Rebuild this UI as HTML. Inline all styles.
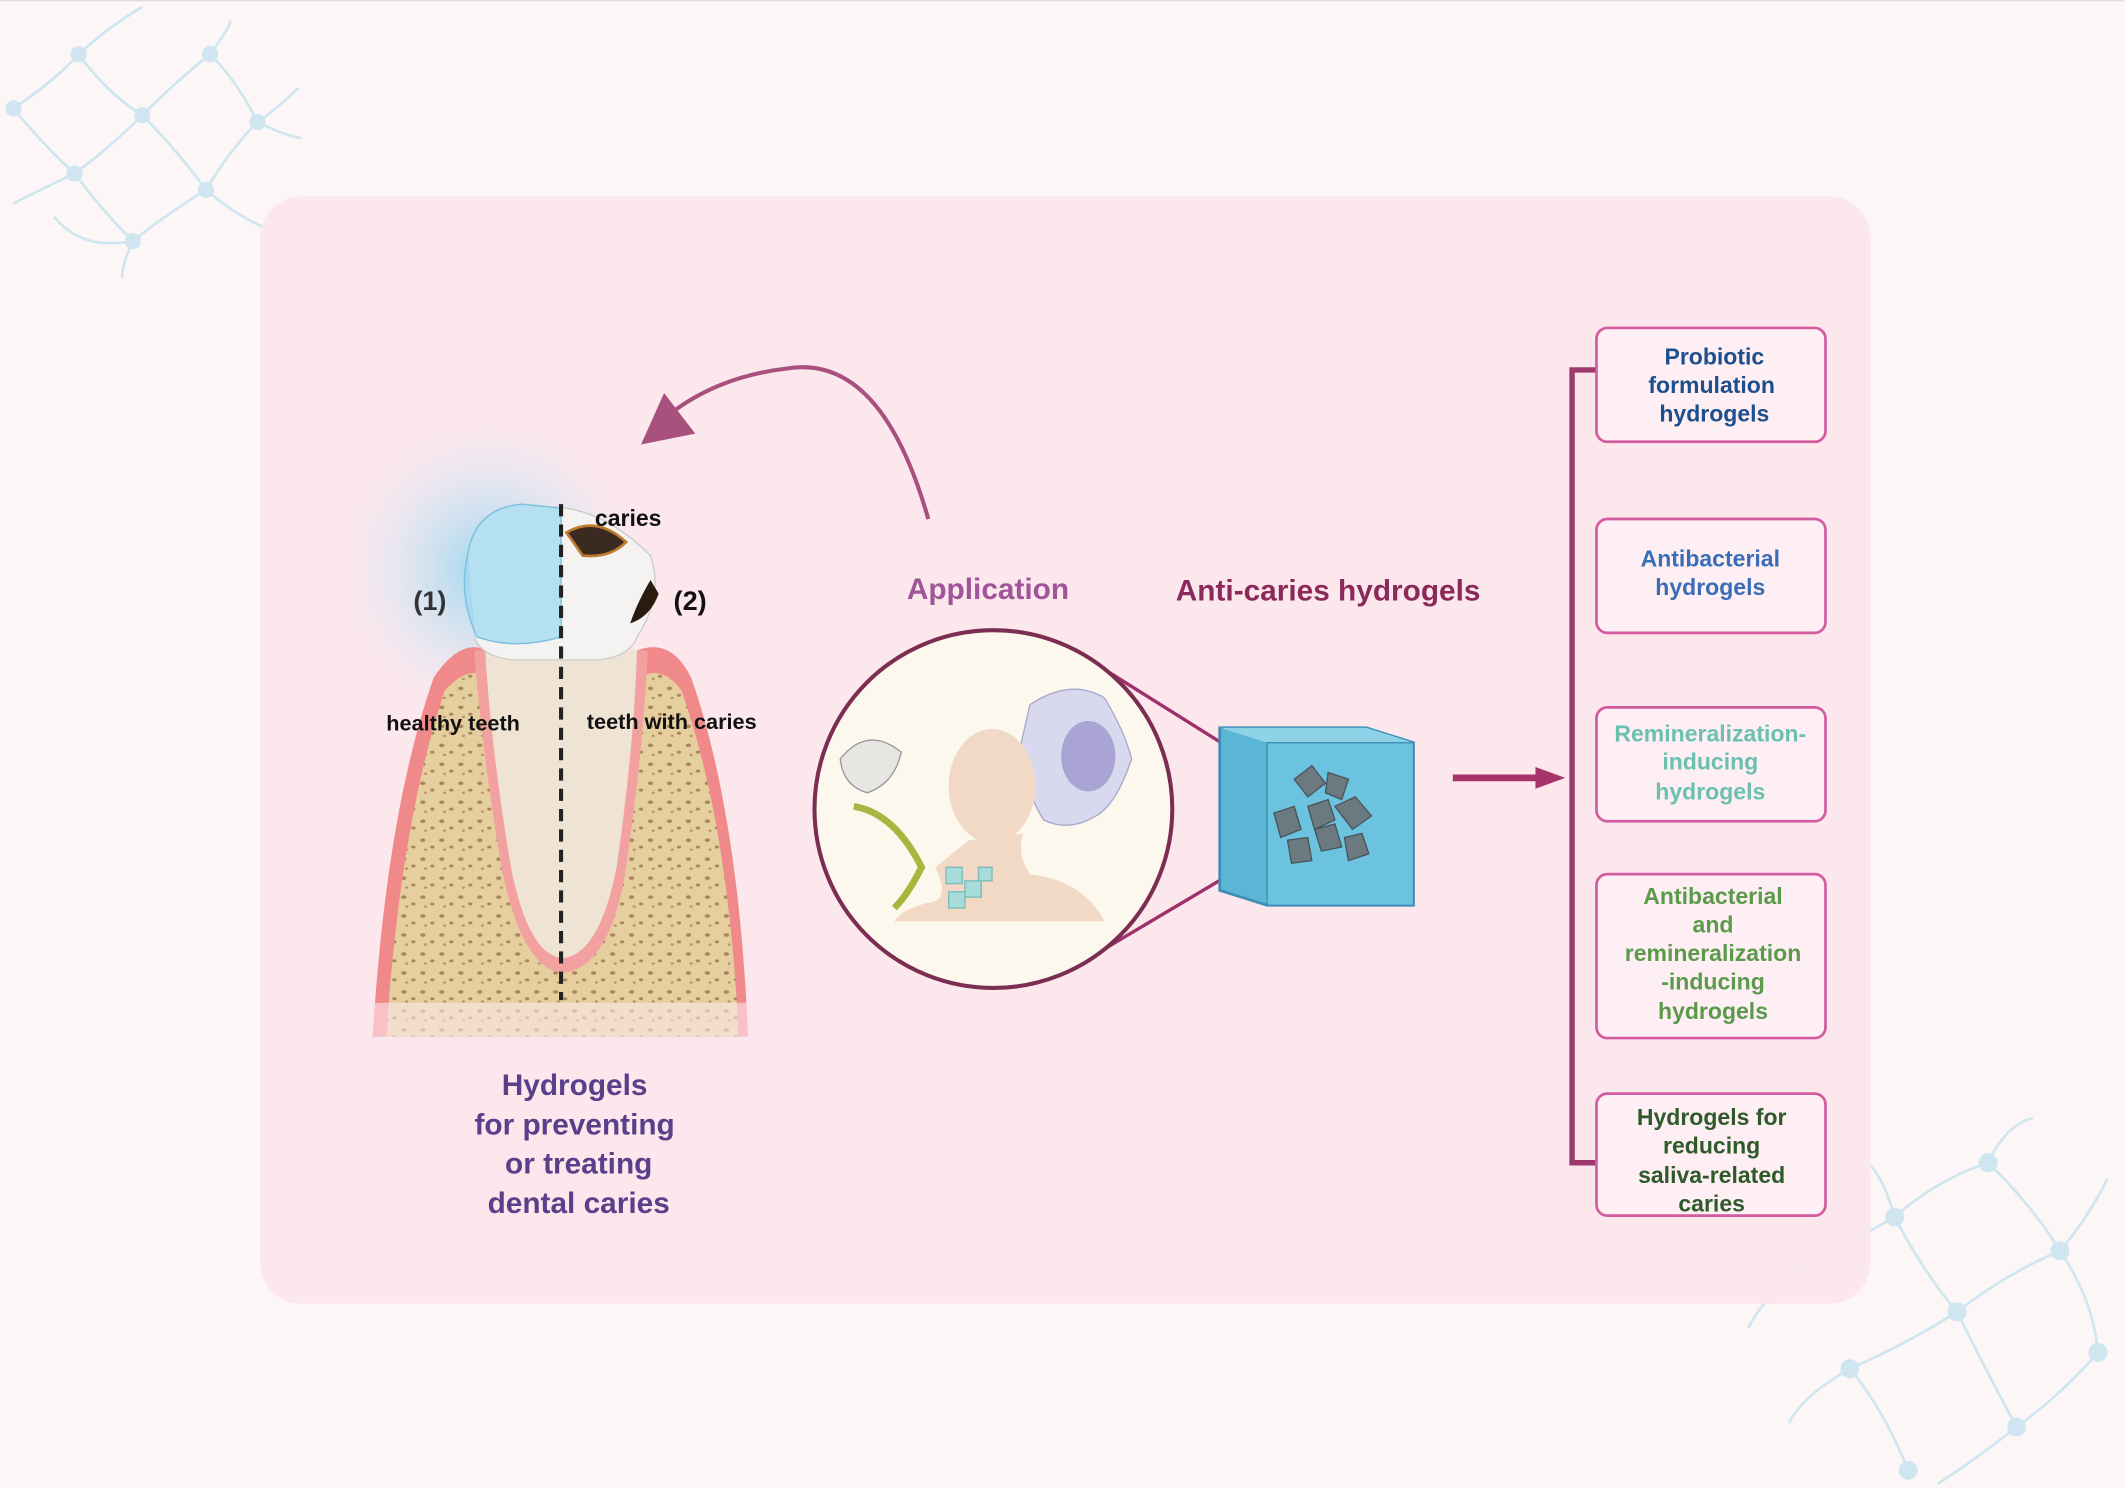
<!DOCTYPE html>
<html><head><meta charset="utf-8"><style>
html,body{margin:0;padding:0;background:#fcf7f6;}
svg{display:block;}
text{font-family:"Liberation Sans",sans-serif;font-weight:bold;}
</style></head><body>
<svg width="2125" height="1488" viewBox="0 0 1568 1098" preserveAspectRatio="none" xmlns="http://www.w3.org/2000/svg">
<defs>
<radialGradient id="glow" cx="0.5" cy="0.5" r="0.5">
<stop offset="0" stop-color="#8fd3f0" stop-opacity="0.9"/>
<stop offset="1" stop-color="#d8eef8" stop-opacity="0"/>
</radialGradient>
<pattern id="bone" width="14" height="14" patternUnits="userSpaceOnUse">
<rect width="14" height="14" fill="#e6cf9e"/>
<ellipse cx="4" cy="4" rx="2" ry="1.3" fill="#a9855a"/>
<ellipse cx="11" cy="9" rx="1.6" ry="1.1" fill="#a9855a"/>
<ellipse cx="6" cy="11" rx="1.2" ry="0.9" fill="#b89268"/>
</pattern>
</defs>
<rect width="1568" height="1098" fill="#fcf7f6"/>
<line x1="0" y1="0.5" x2="1568" y2="0.5" stroke="#ddd"/>
<!-- network decorations -->
<g stroke="#cfe6f1" stroke-width="2" fill="none">
<path d="M10 80 Q40 60 58 40 Q80 20 105 5 M58 40 Q80 70 105 85 Q130 60 155 40 Q170 20 170 15 M105 85 Q80 110 55 128 Q30 140 10 150 M105 85 Q130 110 152 140 Q170 110 190 90 Q205 80 220 65 M55 128 Q75 155 98 178 Q120 160 152 140 M98 178 Q90 195 90 205 M152 140 Q175 160 200 170 M10 80 Q30 105 55 128 M155 40 Q175 60 190 90 M190 90 Q210 100 222 102 M98 178 Q60 185 40 160"/>
<path d="M1325 938 Q1360 920 1398 898 Q1430 870 1467 858 Q1480 830 1500 825 M1398 898 Q1420 940 1444 968 Q1480 940 1520 923 Q1540 900 1555 870 M1444 968 Q1410 990 1365 1010 Q1330 1030 1320 1050 M1444 968 Q1470 1020 1488 1053 Q1520 1030 1548 998 M1365 1010 Q1390 1040 1408 1085 M1488 1053 Q1460 1075 1430 1095 M1467 858 Q1500 890 1520 923 M1398 898 Q1390 870 1380 860 M1325 938 Q1300 960 1290 980 M1520 923 Q1545 960 1548 998"/>
</g>
<g fill="#cfe6f1">
<circle cx="58" cy="40" r="6"/><circle cx="105" cy="85" r="6"/><circle cx="155" cy="40" r="6"/><circle cx="55" cy="128" r="6"/><circle cx="152" cy="140" r="6"/><circle cx="98" cy="178" r="6"/><circle cx="190" cy="90" r="6"/><circle cx="10" cy="80" r="6"/>
<circle cx="1398" cy="898" r="7"/><circle cx="1467" cy="858" r="7"/><circle cx="1444" cy="968" r="7"/><circle cx="1520" cy="923" r="7"/><circle cx="1365" cy="1010" r="7"/><circle cx="1488" cy="1053" r="7"/><circle cx="1548" cy="998" r="7"/><circle cx="1408" cy="1085" r="7"/><circle cx="1325" cy="938" r="7"/>
</g>
<!-- main panel -->
<rect x="192" y="145" width="1188" height="817" rx="30" fill="#fce6ec" fill-opacity="0.95"/>
<!-- tooth -->
<circle cx="360" cy="420" r="110" fill="url(#glow)"/>
<path d="M275 765 Q285 600 320 500 Q340 470 360 480 L470 480 Q495 470 510 500 Q545 600 552 765 Z" fill="#f08a8a"/>
<path d="M285 765 Q295 610 328 510 Q345 490 360 500 L470 500 Q490 490 503 510 Q538 610 545 765 Z" fill="url(#bone)"/>
<path d="M350 480 Q355 550 370 640 Q385 715 415 718 Q450 715 462 640 Q475 550 478 480 Z" fill="#f2a0a0"/>
<path d="M358 480 Q362 550 377 640 Q390 705 415 707 Q442 705 455 640 Q468 550 470 480 Z" fill="#efe4d4"/>
<path d="M345 410 Q350 375 385 372 L418 375 Q450 380 480 410 Q490 440 470 470 Q465 485 440 487 L380 487 Q355 485 350 470 Z" fill="#f5f3f2" stroke="#ccc" stroke-width="1"/>
<path d="M418 393 Q440 380 462 400 Q450 412 430 410 Z" fill="#3a2a20" stroke="#c07a30" stroke-width="2"/>
<path d="M480 428 Q470 445 465 460 Q480 455 486 438 Z" fill="#2a1a10"/>
<path d="M345 410 Q350 375 385 372 L414 375 L414 470 Q380 480 352 470 Q338 440 345 410 Z" fill="#9ed9f2" fill-opacity="0.75" stroke="#7bbfe0"/>
<rect x="275" y="740" width="280" height="30" fill="#fce6ec" fill-opacity="0.6"/>
<line x1="414" y1="372" x2="414" y2="738" stroke="#222" stroke-width="3" stroke-dasharray="9,6"/>
<text x="439" y="388" font-size="17" fill="#111">caries</text>
<text x="305" y="450" font-size="20" fill="#333" font-weight="normal">(1)</text>
<text x="497" y="450" font-size="20" fill="#111" font-weight="normal">(2)</text>
<text x="285" y="539" font-size="16" fill="#111">healthy teeth</text>
<text x="433" y="538" font-size="16" fill="#111">teeth with caries</text>
<g font-size="22" fill="#5b3f8a" text-anchor="middle">
<text x="424" y="808">Hydrogels</text>
<text x="424" y="837">for preventing</text>
<text x="427" y="866">or treating</text>
<text x="427" y="895">dental caries</text>
</g>
<!-- curved arrow -->
<path d="M685 383 Q650 260 580 272 Q530 278 495 305" fill="none" stroke="#a8507e" stroke-width="3"/>
<path d="M473 328 L490 290 L513 320 Z" fill="#a8507e"/>
<text x="729" y="442" font-size="22" fill="#a0559a" text-anchor="middle">Application</text>
<text x="980" y="443" font-size="22" fill="#8b2a5a" text-anchor="middle">Anti-caries hydrogels</text>
<!-- circle -->
<line x1="815" y1="494" x2="960" y2="585" stroke="#a0306a" stroke-width="2.5"/>
<line x1="785" y1="718" x2="950" y2="620" stroke="#a0306a" stroke-width="2.5"/>
<circle cx="733" cy="597" r="132" fill="#fdf8ee" stroke="#7b2d52" stroke-width="3"/>
<path d="M760 520 Q790 500 815 515 Q830 540 835 560 Q825 590 812 600 Q790 615 770 605 Q755 580 752 555 Z" fill="#d8d8ee" stroke="#a8a8cc"/>
<ellipse cx="803" cy="558" rx="20" ry="26" fill="#a9a4d4"/>
<path d="M690 640 Q700 660 690 665 Q665 670 660 680 L815 680 Q800 650 760 645 Q750 630 755 615 L715 620 Z" fill="#f2d9c6"/>
<ellipse cx="732" cy="580" rx="32" ry="42" fill="#f2d9c6"/>
<path d="M620 560 Q640 535 665 555 Q660 578 640 585 Q622 580 620 560 Z" fill="#e8e6e3" stroke="#999"/>
<path d="M630 595 Q660 600 680 640 Q670 660 660 670" fill="none" stroke="#a8b640" stroke-width="5"/>
<g fill="#a8dcd8" stroke="#7abcb8"><rect x="698" y="640" width="12" height="12"/><rect x="712" y="650" width="12" height="12"/><rect x="700" y="658" width="12" height="12"/><rect x="722" y="640" width="10" height="10"/></g>
<!-- cube -->
<path d="M900 537 L1008 537 L1043 548 L1043 668 L935 668 L900 657 Z" fill="#5bb6d6" stroke="#3d8db5" stroke-width="2"/>
<path d="M900 537 L1008 537 L1043 548 L935 548 Z" fill="#8ed2e8"/>
<path d="M935 548 L1043 548 L1043 668 L935 668 Z" fill="#6cc3e0" stroke="#3d8db5"/>
<g fill="#6b7a80" stroke="#4a555a">
<polygon points="955,575 968,565 978,578 965,588"/><polygon points="980,570 995,575 990,590 978,585"/>
<polygon points="940,600 955,595 960,612 945,618"/><polygon points="965,595 980,590 985,605 970,612"/>
<polygon points="985,595 1000,588 1012,602 998,612"/><polygon points="970,612 985,608 990,625 975,628"/>
<polygon points="992,618 1005,615 1010,630 995,635"/><polygon points="950,620 965,618 968,635 953,637"/>
</g>
<!-- arrow right -->
<path d="M1072 574 L1135 574" stroke="#a8336a" stroke-width="5"/>
<path d="M1133 566 L1155 574 L1133 582 Z" fill="#a8336a"/>
<!-- bracket -->
<path d="M1180 273 L1160 273 L1160 858 L1180 858" fill="none" stroke="#9c3a70" stroke-width="4"/>
<g fill="#fdeff3" stroke="#d35ba0" stroke-width="2">
<rect x="1178" y="242" width="169" height="84" rx="8"/>
<rect x="1178" y="383" width="169" height="84" rx="8"/>
<rect x="1178" y="522" width="169" height="84" rx="8"/>
<rect x="1178" y="645" width="169" height="121" rx="8"/>
<rect x="1178" y="807" width="169" height="90" rx="8"/>
</g>
<g font-size="17" text-anchor="middle">
<g fill="#1e4f8c"><text x="1265" y="269">Probiotic</text><text x="1263" y="290">formulation</text><text x="1265" y="311">hydrogels</text></g>
<g fill="#3a6db5"><text x="1262" y="418">Antibacterial</text><text x="1262" y="439">hydrogels</text></g>
<g fill="#6cc0b0"><text x="1262" y="547">Remineralization-</text><text x="1262" y="568">inducing</text><text x="1262" y="590">hydrogels</text></g>
<g fill="#5a9a4a"><text x="1264" y="667">Antibacterial</text><text x="1264" y="688">and</text><text x="1264" y="709">remineralization</text><text x="1264" y="730">-inducing</text><text x="1264" y="752">hydrogels</text></g>
<g fill="#2e5a2a"><text x="1263" y="830">Hydrogels for</text><text x="1263" y="851">reducing</text><text x="1263" y="873">saliva-related</text><text x="1263" y="894">caries</text></g>
</g>
</svg>
</body></html>
